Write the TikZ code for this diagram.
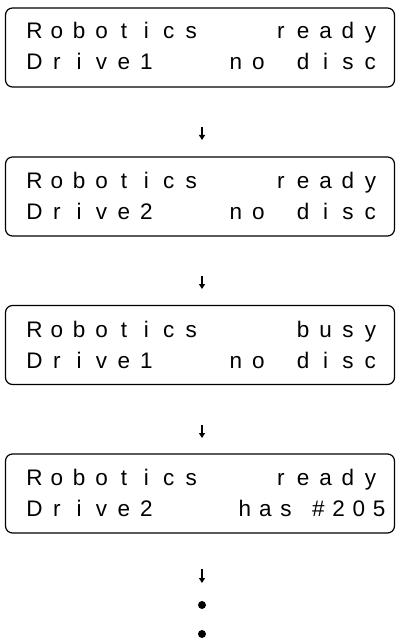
\documentclass[tikz,border=0pt]{standalone}
\usepackage{fontspec}
\setmainfont{Liberation Sans}
\usetikzlibrary{arrows.meta}
\newlength\lcdw \setlength\lcdw{22.4pt}
\makeatletter
\def\lcdblank{*}
\newcommand\lcdrow[1]{\@tfor\lcdch:=#1\do{\makebox[\lcdw][c]{\ifx\lcdch\lcdblank\else\lcdch\fi}}}
\makeatother
\tikzset{
  lcdbox/.style={draw, line width=1.2pt, rounded corners=7pt, minimum width=389pt, minimum height=79pt, inner sep=0pt, outer sep=0pt},
  lcdtxt/.style={anchor=base west, inner sep=0pt, font=\fontsize{22.5}{26}\selectfont},
  arr/.style={line width=1.3pt, -{Triangle[length=5pt,width=6pt]}},
  dot/.style={circle, fill=black, inner sep=0pt, minimum size=8pt}
}
\begin{document}
\begin{tikzpicture}[x=1pt,y=-1pt]
\useasboundingbox (0,0) rectangle (396,639);
% box 1
\node[lcdbox] (b1) at (200,47.5) {};
\node[lcdtxt] (b1l1) at (23,39) {\lcdrow{Robotics***ready}};
\node[lcdtxt] (b1l2) at (23,70) {\lcdrow{Drive1***no*disc}};
% box 2
\node[lcdbox] (b2) at (200,196.5) {};
\node[lcdtxt] (b2l1) at (23,188) {\lcdrow{Robotics***ready}};
\node[lcdtxt] (b2l2) at (23,219) {\lcdrow{Drive2***no*disc}};
% box 3
\node[lcdbox] (b3) at (200,345) {};
\node[lcdtxt] (b3l1) at (23,337) {\lcdrow{Robotics****busy}};
\node[lcdtxt] (b3l2) at (23,368) {\lcdrow{Drive1***no*disc}};
% box 4
\node[lcdbox] (b4) at (200,493.5) {};
\node[lcdtxt] (b4l1) at (23,485) {\lcdrow{Robotics***ready}};
\node[lcdtxt] (b4l2a) at (23,516) {\lcdrow{Drive2}};
\node[lcdtxt] (b4l2b) at (234.5,516) {\setlength\lcdw{20.5pt}\lcdrow{has}};
\node[lcdtxt] (b4l2c) at (308,516) {\setlength\lcdw{20.3pt}\lcdrow{\#205}};
% arrows
\coordinate (a1s) at (202,127); \coordinate (a1e) at (202,140);
\coordinate (a2s) at (202,276); \coordinate (a2e) at (202,289);
\coordinate (a3s) at (202,425); \coordinate (a3e) at (202,438);
\coordinate (a4s) at (202,569); \coordinate (a4e) at (202,583);
\draw[arr] (a1s) -- (a1e);
\draw[arr] (a2s) -- (a2e);
\draw[arr] (a3s) -- (a3e);
\draw[arr] (a4s) -- (a4e);
% dots
\node[dot] (d1) at (202,605) {};
\node[dot] (d2) at (202,634) {};
\end{tikzpicture}
\end{document}
